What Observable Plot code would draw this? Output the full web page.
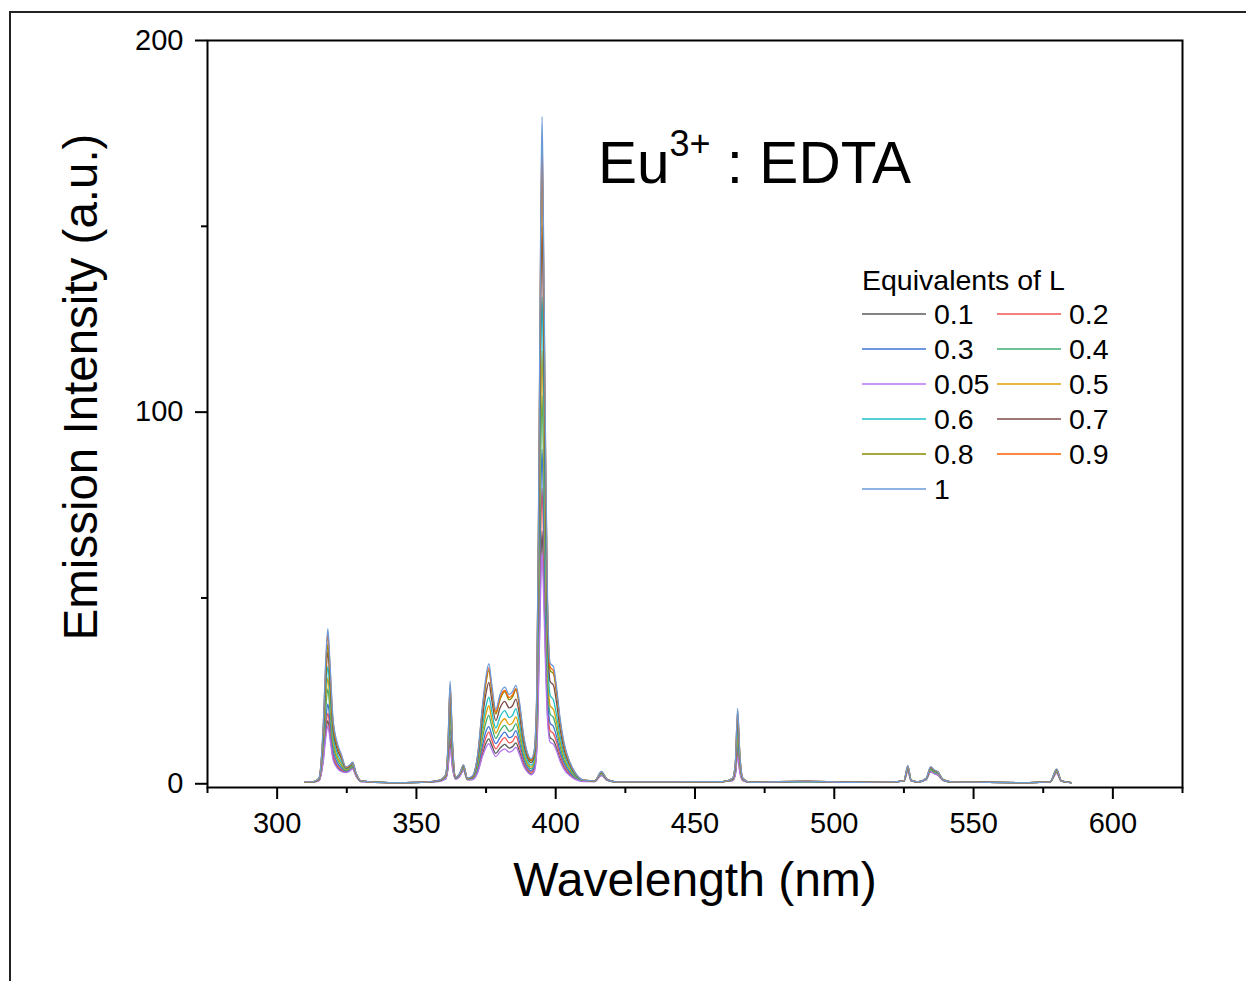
<!DOCTYPE html>
<html>
<head>
<meta charset="utf-8">
<script src="https://cdn.jsdelivr.net/npm/d3@7"></script>
<script src="https://cdn.jsdelivr.net/npm/@observablehq/plot@0.6"></script>
<style>
  html, body { margin: 0; padding: 0; background: #fff; }
  #wrap { position: relative; width: 1246px; height: 981px; overflow: hidden; }
  #border { position: absolute; left: 9px; top: 11px; width: 1300px; height: 1000px;
            border-top: 2px solid #222; border-left: 2px solid #222; }
  #chart { position: absolute; left: 0; top: 0; }
</style>
</head>
<body>
<div id="wrap"><div id="border"></div><div id="chart"></div></div>
<script>
// ---------------- data ----------------
const wavelengths = [310,313,315,316.5,317.5,318.2,319,320,321.5,323,324.7,326,327.1,328.3,330,340,352,358,360.5,361.3,362.1,362.9,364.1,365.5,366.9,368.3,370,372,373.7,375,376,377,378.5,380,381.7,383.3,384.5,385.7,387,388.5,390,391.2,392.3,393.2,394,394.6,395.1,395.6,396.3,397,398,399.2,400.3,401.5,403,405,407,410,414,416.4,418.5,422,440,460,463.5,464.5,465.3,466.1,467.2,470,490,505,520,525,526.4,527.6,530,533,534.6,535.8,537.3,539,542,555,570,577.5,579.8,581.5,585];

const eq0_1 = [0.4,0.5,0.9,6.2,13.9,17,13.1,7.4,4.6,3.5,3.1,3.5,4.1,2.2,0.6,0.3,0.4,0.7,1.4,4.1,11,4.8,1.3,2,3.6,1.1,1.1,3.3,8,11,12.1,10.4,8.2,9.6,10.6,9.6,10,11,8.6,5.2,3.3,2.6,3.6,9.5,34.2,57,68,57,36.1,19.8,12.4,11.7,9.7,6.8,4.3,2.4,1.3,0.7,0.6,2.3,0.9,0.5,0.5,0.6,0.9,2.6,7.9,3.3,0.9,0.4,0.6,0.4,0.5,0.7,3.5,0.8,0.5,1.1,3.3,2.8,2.3,0.9,0.5,0.4,0.3,0.5,2.9,0.7,0.3];
const eq0_2 = [0.4,0.5,0.9,6.8,15.5,19,14.6,8.2,5.2,3.9,3.2,3.6,4.3,2.3,0.7,0.3,0.4,0.7,1.5,4.6,12.5,5.4,1.3,2.1,3.8,1.1,1.2,3.7,9.1,12.6,13.9,11.9,9.4,11,12.4,11,11.4,12.8,9.9,5.9,3.8,3.1,4.2,11,39.9,66.5,79.5,66.5,42.1,23,14.3,13.5,11.2,7.9,4.9,2.8,1.5,0.7,0.7,2.4,1,0.5,0.5,0.6,0.9,2.9,9,3.7,0.9,0.4,0.6,0.4,0.5,0.7,3.6,0.8,0.5,1.2,3.4,2.9,2.4,1,0.5,0.4,0.3,0.5,3,0.7,0.3];
const eq0_3 = [0.4,0.5,1,7.8,17.7,21.5,16.6,9.4,5.8,4.3,3.4,3.8,4.5,2.4,0.7,0.3,0.4,0.7,1.6,5.2,15,6.2,1.4,2.2,3.9,1.2,1.3,4.1,10.3,14.2,15.4,13.3,10.8,12.4,13.9,12.4,12.8,14.3,11.2,6.6,4.2,3.5,4.7,12.5,45,75,90,75,47.5,26,16.3,15.4,12.7,8.9,5.6,3.1,1.7,0.8,0.7,2.5,1,0.5,0.5,0.6,1,3.2,10.2,4.2,1,0.4,0.6,0.4,0.5,0.7,3.7,0.8,0.5,1.2,3.6,3,2.5,1,0.5,0.4,0.3,0.5,3.1,0.7,0.3];
const eq0_4 = [0.4,0.5,1,9.2,20.7,25.5,19.5,11,6.7,4.9,3.6,4,4.7,2.5,0.7,0.3,0.4,0.7,1.7,5.9,18,7,1.4,2.3,4.1,1.2,1.4,4.8,12.2,16.6,18.4,15.6,12.2,14.2,15.7,14.1,14.6,16.2,12.8,7.6,4.8,4,5.4,14.5,52.2,87.5,104.5,87.5,55.1,30.2,18.8,17.8,14.7,10.3,6.4,3.6,1.9,0.8,0.7,2.6,1,0.5,0.5,0.6,1,3.6,11.8,4.8,1,0.4,0.6,0.4,0.5,0.7,3.9,0.9,0.5,1.2,3.7,3.1,2.6,1,0.5,0.4,0.3,0.5,3.2,0.8,0.3];
const eq0_05 = [0.4,0.5,0.8,5.6,12.6,15.5,11.8,6.7,4.3,3.3,3,3.4,4,2.1,0.6,0.3,0.4,0.6,1.3,3.8,9.5,4.4,1.2,1.9,3.6,1.1,1.1,3,7.3,9.8,10.8,9.3,7.3,8.6,9.4,8.5,8.9,9.8,7.8,4.7,3,2.4,3.3,8.6,31,52,62,52,32.8,17.9,11.2,10.6,8.8,6.2,3.9,2.2,1.2,0.6,0.6,2.2,0.9,0.5,0.5,0.6,0.8,2.4,7.3,3,0.8,0.4,0.6,0.4,0.5,0.7,3.4,0.8,0.5,1.1,3.2,2.7,2.3,0.9,0.5,0.4,0.3,0.5,2.8,0.7,0.3];
const eq0_5 = [0.4,0.5,1.1,10.2,23.1,28.5,21.8,12.2,7.4,5.4,3.8,4.2,4.9,2.6,0.7,0.3,0.4,0.8,1.9,6.6,20,7.9,1.5,2.4,4.2,1.3,1.5,5.3,13.7,18.9,21,17.6,13.6,16,17.5,15.9,16.4,18,14.4,8.6,5.3,4.5,6,16.3,58.5,97.5,116.5,97.5,61.8,33.8,21,20,16.5,11.6,7.2,4,2.1,0.9,0.7,2.7,1.1,0.5,0.5,0.6,1.1,4,13.2,5.3,1.1,0.4,0.6,0.4,0.5,0.8,4,0.9,0.5,1.3,3.9,3.2,2.7,1.1,0.5,0.4,0.3,0.5,3.3,0.8,0.3];
const eq0_6 = [0.4,0.5,1.2,11.3,25.7,31.5,24.2,13.6,8.3,6,4,4.4,5.1,2.7,0.7,0.3,0.4,0.8,2,7.4,22,8.8,1.5,2.5,4.4,1.3,1.6,5.9,15.3,21,23.3,19.7,15,18,19.7,17.8,18.4,20.2,16.2,9.6,6,5,6.7,18.3,65.7,110,131,110,69.4,38,23.8,22.5,18.5,13,8,4.5,2.3,0.9,0.8,2.8,1.1,0.5,0.5,0.6,1.2,4.5,14.8,6,1.2,0.4,0.6,0.4,0.5,0.8,4.2,0.9,0.5,1.3,4,3.3,2.8,1.1,0.5,0.4,0.3,0.5,3.5,0.8,0.3];
const eq0_7 = [0.4,0.5,1.3,12.8,28.9,35.5,27.2,15.3,9.4,6.9,4.2,4.6,5.4,2.8,0.8,0.3,0.4,0.8,2.2,8.5,24,10.1,1.6,2.6,4.7,1.4,1.7,6.8,17.6,24.4,27.3,22.7,17,20.4,22.2,20.4,21,22.8,18.5,11,6.8,5.7,7.6,21,75.2,126,150,126,79.4,43.5,27.5,26.5,21.8,15.1,9.2,5.1,2.6,0.9,0.8,3,1.1,0.5,0.5,0.6,1.3,5.1,17,6.8,1.3,0.4,0.7,0.4,0.5,0.8,4.5,0.9,0.5,1.4,4.3,3.5,3,1.1,0.5,0.4,0.3,0.5,3.7,0.8,0.3];
const eq0_8 = [0.4,0.6,1.4,13.5,30.6,37.5,28.8,16.2,10.4,7.4,4.3,4.8,5.6,2.9,0.8,0.3,0.4,0.9,2.3,9.4,26,11.3,1.7,2.7,4.8,1.4,1.9,7.5,19.7,27.3,30.5,25.4,18.8,22.6,24.8,22.6,23.4,25.3,20.7,12.2,7.5,6.2,8.4,23.5,85.2,141,170,141,90,49.2,30.5,29.6,24.4,16.9,10.3,5.6,2.8,1,0.8,3.1,1.2,0.5,0.5,0.6,1.4,5.6,18.9,7.5,1.4,0.4,0.7,0.4,0.5,0.8,4.6,1,0.5,1.4,4.4,3.6,3.1,1.2,0.5,0.4,0.3,0.5,3.8,0.8,0.3];
const eq0_9 = [0.5,0.6,1.5,14.5,32.8,40.2,30.9,17.4,10.8,7.7,4.4,4.9,5.7,2.9,0.8,0.3,0.4,0.9,2.4,9.7,26.6,11.6,1.8,2.7,5,1.5,1.9,7.7,20.3,28,31.2,26.1,19.3,23.2,25.1,23.2,23.9,25.6,21.2,12.5,7.7,6.5,8.7,24.1,87.3,145,174,145,92.2,50.4,31.4,30.4,25.1,17.4,10.6,5.8,2.9,1,0.8,3.2,1.2,0.5,0.5,0.6,1.5,5.8,19.6,7.7,1.5,0.4,0.7,0.4,0.5,0.8,4.8,1,0.5,1.5,4.5,3.7,3.1,1.2,0.5,0.4,0.3,0.5,3.9,0.8,0.3];
const eq1 = [0.5,0.6,1.5,15,34,41.7,32,18,11.2,8,4.5,5,5.8,3,0.8,0.3,0.4,0.9,2.5,10,27.6,12,1.8,2.8,5.1,1.5,2,8,21,29,32.3,27,20,24,26,24,24.8,26.5,22,13,8,6.7,9,25,90,150,179.5,150,95,52,32.5,31.5,26,18,11,6,3,1,0.8,3.3,1.2,0.5,0.5,0.6,1.5,6,20.3,8,1.5,0.4,0.7,0.4,0.5,0.8,4.9,1,0.5,1.5,4.6,3.8,3.2,1.2,0.5,0.4,0.3,0.5,4,0.8,0.3];

const seriesLabels = ["0.1","0.2","0.3","0.4","0.05","0.5","0.6","0.7","0.8","0.9","1"];
const seriesValues = [eq0_1, eq0_2, eq0_3, eq0_4, eq0_05, eq0_5, eq0_6, eq0_7, eq0_8, eq0_9, eq1];
const seriesColors = ["#5a5a5a","#f25555","#3f73d6","#3fae72","#b476f0","#dea000","#1cc0c8","#7a4a4a","#8a8a00","#ff6000","#6a9ad8"];

const xTicks = [300,350,400,450,500,550,600];
const xMinorTicks = [275,325,375,425,475,525,575,625];
const yTicks = [0,100,200];
const yMinorTicks = [50,150];

// long table for Plot
const table = [];
seriesLabels.forEach((lab, i) => {
  wavelengths.forEach((w, j) => table.push({eq: lab, wl: w, v: seriesValues[i][j]}));
});

const FONT = "'Liberation Sans', Arial, Helvetica, sans-serif";

const chart = Plot.plot({
  width: 1246,
  height: 981,
  marginLeft: 207,
  marginRight: 64,
  marginTop: 40,
  marginBottom: 194,
  style: {fontFamily: FONT, fontSize: "29px", color: "#000", background: "transparent", overflow: "visible"},
  x: {domain: [275, 625]},
  y: {domain: [-1, 200]},
  color: {domain: seriesLabels, range: seriesColors},
  marks: [
    Plot.line(table, {x: "wl", y: "v", z: "eq", stroke: "eq", strokeWidth: 1.3, curve: "monotone-x"}),
    Plot.axisX({ticks: xMinorTicks, tickSize: 6, tickFormat: () => "", strokeWidth: 2, label: null}),
    Plot.axisX({ticks: xTicks, tickSize: 12, tickPadding: 13, tickFormat: d => String(d), strokeWidth: 2, label: null, fontSize: 29}),
    Plot.axisY({ticks: yMinorTicks, tickSize: 6, tickFormat: () => "", strokeWidth: 2, label: null}),
    Plot.axisY({ticks: yTicks, tickSize: 12, tickPadding: 12, tickFormat: d => String(d), strokeWidth: 2, label: null, fontSize: 29}),
    Plot.frame({stroke: "#000", strokeWidth: 2})
  ]
});
document.getElementById("chart").appendChild(chart);

// ---------- annotations: axis titles, title, legend ----------
const svg = d3.select(chart);
svg.append("text")
  .attr("x", 695).attr("y", 896)
  .attr("text-anchor", "middle")
  .style("font-family", FONT).style("font-size", "48px").attr("fill", "#000")
  .text("Wavelength (nm)");
svg.append("text")
  .attr("transform", "translate(97,387) rotate(-90)")
  .attr("text-anchor", "middle")
  .style("font-family", FONT).style("font-size", "47.5px").attr("fill", "#000")
  .text("Emission Intensity (a.u.)");

const title = svg.append("text")
  .attr("x", 598).attr("y", 183)
  .attr("text-anchor", "start")
  .style("font-family", FONT).style("font-size", "58.5px").attr("fill", "#000");
title.append("tspan").text("Eu");
title.append("tspan").attr("dy", -27).style("font-size", "36px").text("3+");
title.append("tspan").attr("dy", 27).text(" : EDTA");

const lg = svg.append("g").attr("text-anchor", "start").style("font-family", FONT).style("font-size", "28.5px");
lg.append("text").attr("x", 862).attr("y", 290).attr("fill", "#000").text("Equivalents of L");
seriesLabels.forEach((lab, i) => {
  const col = i % 2, row = Math.floor(i / 2);
  const x0 = col === 0 ? 862 : 997;
  const yc = 314 + row * 35;
  lg.append("line").attr("x1", x0).attr("x2", x0 + 64).attr("y1", yc).attr("y2", yc)
    .attr("stroke", seriesColors[i]).attr("stroke-width", 1.3);
  lg.append("text").attr("x", x0 + 72).attr("y", yc + 10).attr("fill", "#000").text(lab);
});
</script>
</body>
</html>
